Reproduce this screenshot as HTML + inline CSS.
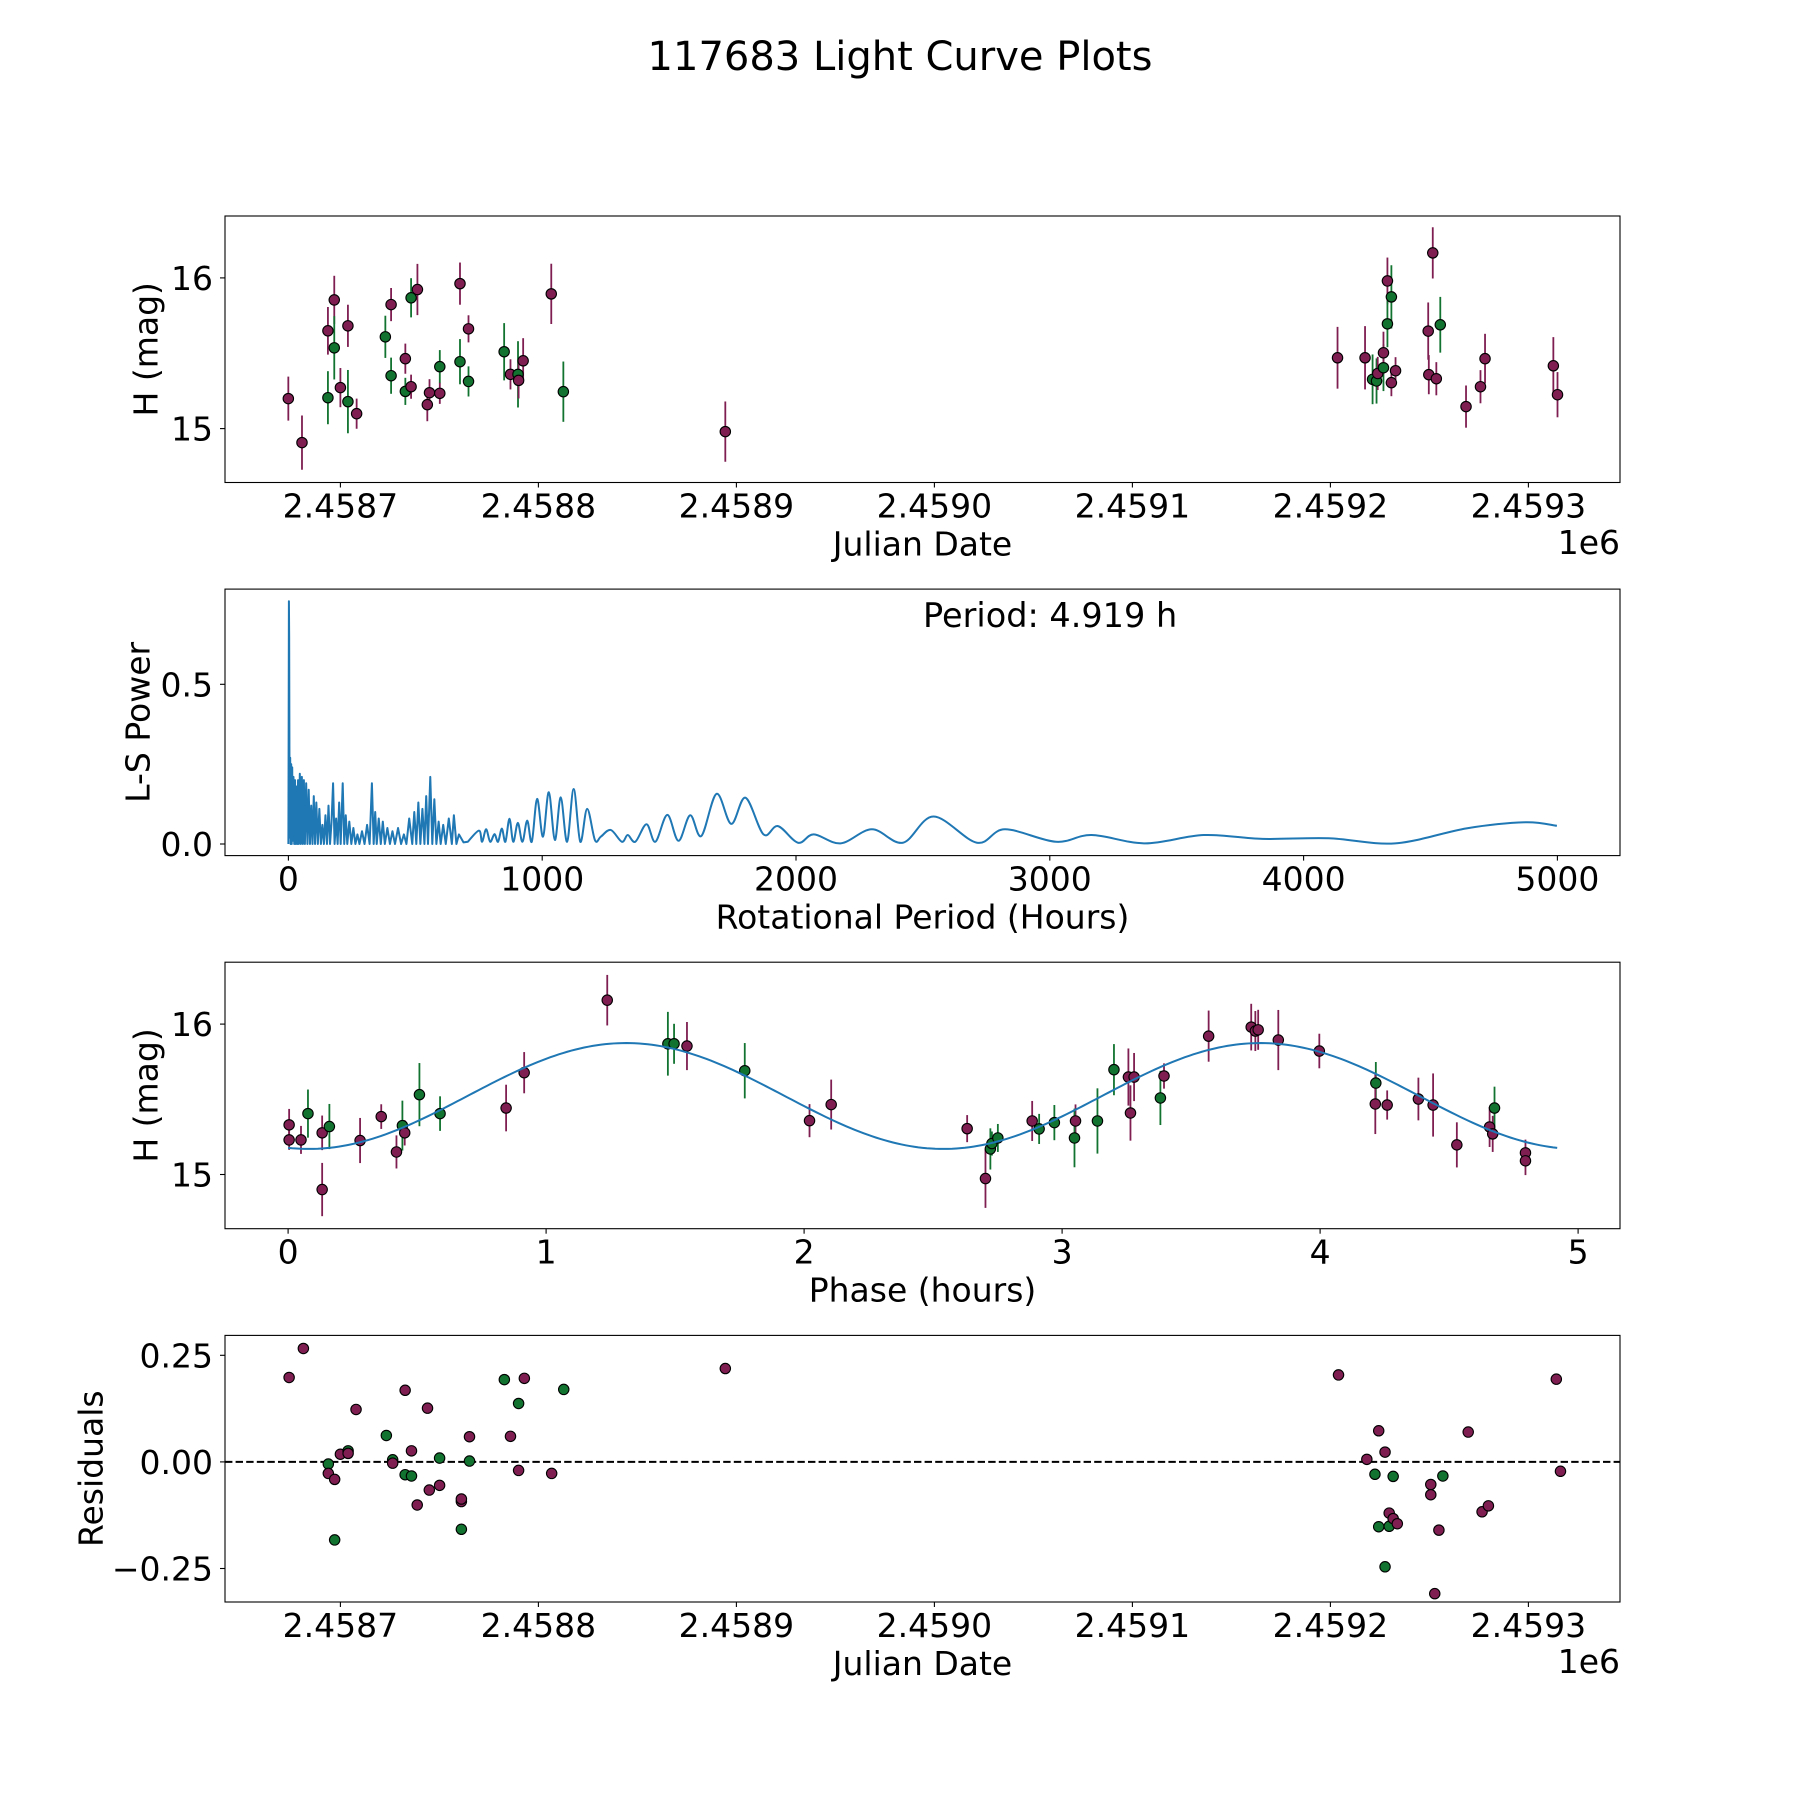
<!DOCTYPE html>
<html><head><meta charset="utf-8"><title>117683 Light Curve Plots</title>
<style>
html,body{margin:0;padding:0;background:#fff}
svg{display:block;font-family:"DejaVu Sans","Liberation Sans",sans-serif}
</style></head>
<body>
<svg id="fig" width="1800" height="1800" viewBox="0 0 1800 1800" xmlns="http://www.w3.org/2000/svg">
<rect width="1800" height="1800" fill="#fff"/>
<text x="900" y="70" text-anchor="middle" font-size="40">117683 Light Curve Plots</text>
</svg>
<script>
// ---------- Panel 1: light curve (JD vs H mag) ----------
const lcJD = [2458673.7,2458680.6,2458693.7,2458693.7,2458696.9,2458696.9,2458700.0,2458703.8,2458703.8,2458708.2,2458722.7,2458725.6,2458725.6,2458732.8,2458732.8,2458735.7,2458735.7,2458738.9,2458743.9,2458745.0,2458750.2,2458750.2,2458760.4,2458760.4,2458764.7,2458764.7,2458782.7,2458785.9,2458789.7,2458790.0,2458792.3,2458806.5,2458812.6,2458894.4,
2459203.6,2459217.5,2459221.3,2459223.3,2459223.9,2459226.8,2459226.8,2459228.8,2459228.8,2459230.8,2459230.8,2459232.9,2459249.4,2459249.7,2459251.7,2459253.5,2459255.5,2459268.5,2459275.8,2459278.1,2459312.6,2459314.7];
const lcMag = [15.199,14.907,15.205,15.649,15.854,15.536,15.272,15.179,15.682,15.099,15.609,15.823,15.351,15.464,15.247,15.278,15.868,15.923,15.159,15.238,15.411,15.234,15.962,15.444,15.662,15.313,15.51,15.36,15.36,15.32,15.45,15.894,15.245,14.98,
15.47,15.47,15.327,15.316,15.366,15.404,15.503,15.98,15.695,15.874,15.305,15.384,15.647,15.358,16.166,15.331,15.689,15.146,15.278,15.464,15.417,15.225];
const lcErr = [0.146,0.18,0.176,0.158,0.16,0.21,0.13,0.21,0.14,0.10,0.14,0.11,0.12,0.10,0.09,0.08,0.13,0.17,0.11,0.09,0.11,0.07,0.14,0.15,0.09,0.10,0.19,0.10,0.22,0.12,0.15,0.20,0.20,0.20,
0.205,0.21,0.165,0.15,0.11,0.155,0.14,0.155,0.155,0.21,0.09,0.09,0.19,0.13,0.17,0.11,0.185,0.14,0.11,0.165,0.19,0.15];
const lcBand = ['P','P','G','P','P','G','P','G','P','P','G','P','G','P','G','P','G','P','P','P','G','P','P','G','P','G','G','P','G','P','P','P','G','P',
'P','P','G','G','P','G','P','P','G','G','P','P','P','P','P','P','G','P','P','P','P','P'];

// ---------- Panel 2: Lomb-Scargle periodogram ----------
const lsPeriodDense = [0,1,2,3,4,5,7,9,11,13,15,17,20,23,26,29,32,35,38,41,45,49,53,57,61,65,70,75,80,85,90,95,100,105,110,116,122,128,134,140,146,152,158,164,170,176,182,188,194,200,206,214,220,226,232,240,248,256,264,272,280,290,300,310,320,329,336,342,348,356,364,372,380,390,400,410,420,432,444,455,465,476,488,496,504,512,520,528,536,543,550,559,567,575,583,592,600,610,620,632,644,652,662,672,690,707];
const lsPowerDense = [0,0.34,0.76,0.65,0.30,0.02,0.27,0,0.25,0,0.24,0.01,0.21,0,0.20,0,0.18,0,0.20,0,0.22,0,0.21,0,0.20,0,0.19,0,0.17,0,0.12,0,0.15,0,0.13,0,0.11,0,0.06,0,0.09,0,0.12,0,0.07,0.19,0,0.08,0,0.13,0,0.19,0,0.09,0,0.07,0,0.05,0,0.03,0,0.04,0,0.06,0,0.19,0,0.10,0,0.08,0,0.07,0,0.05,0,0.04,0,0.05,0,0.03,0,0.08,0,0.10,0,0.13,0,0.11,0,0.15,0,0.21,0,0.14,0,0.07,0,0.06,0,0.08,0,0.09,0,0.03,0.005,0.007];
const lsPeriodSmooth = [707,751,763,779,795,812,826,841,855,871,886,904,922,941,959,980,1003,1026,1050,1073,1098,1124,1150,1177,1208,1231,1270,1314,1337,1367,1411,1446,1493,1537,1583,1627,1687,1745,1801,1872,1929,2008,2070,2176,2299,2421,2542,2713,2823,3024,3165,3376,3607,3838,4099,4361,4642,4873,4998];
const lsPowerSmooth = [0.007,0.042,0.007,0.046,0.007,0.031,0.007,0.048,0.007,0.079,0.007,0.066,0.007,0.073,0.007,0.141,0.023,0.162,0.0125,0.146,0.007,0.172,0.007,0.11,0.012,0.023,0.044,0.007,0.028,0.007,0.062,0.007,0.091,0.01,0.09,0.025,0.157,0.063,0.145,0.03,0.056,0.004,0.03,0.002,0.046,0.004,0.086,0.004,0.046,0.007,0.028,0.002,0.028,0.016,0.018,0.002,0.049,0.068,0.057];
const bestPeriodLabel = "Period: 4.919 h";

// ---------- Panel 3: phased light curve ----------
const phHours = [0.004,0.004,0.050,0.077,0.132,0.132,0.160,0.279,0.361,0.420,0.443,0.452,0.509,0.589,0.845,0.915,1.237,1.472,1.496,1.546,1.770,2.021,2.105,
2.632,2.703,2.722,2.728,2.751,2.884,2.911,2.970,3.052,3.048,3.137,3.201,3.257,3.279,3.265,3.381,3.395,3.568,3.733,3.749,3.760,3.838,3.997,4.216,4.214,4.260,4.381,4.438,4.530,4.657,4.669,4.676,4.796,4.796];
const phMag = [15.330,15.230,15.230,15.405,15.277,14.900,15.319,15.226,15.385,15.150,15.325,15.277,15.531,15.405,15.442,15.677,16.159,15.869,15.869,15.854,15.690,15.358,15.465,
15.305,14.973,15.170,15.206,15.243,15.356,15.303,15.345,15.356,15.243,15.356,15.697,15.648,15.648,15.409,15.509,15.655,15.920,15.980,15.954,15.962,15.894,15.821,15.608,15.469,15.462,15.502,15.462,15.197,15.316,15.270,15.442,15.144,15.091];
const phErr = [0.106,0.066,0.093,0.16,0.115,0.177,0.15,0.15,0.082,0.11,0.166,0.084,0.21,0.115,0.155,0.137,0.168,0.212,0.133,0.16,0.184,0.11,0.166,
0.09,0.195,0.137,0.08,0.093,0.133,0.10,0.117,0.11,0.195,0.217,0.17,0.19,0.16,0.184,0.18,0.084,0.17,0.155,0.133,0.133,0.2,0.115,0.14,0.2,0.097,0.142,0.21,0.15,0.133,0.12,0.142,0.088,0.095];
const phBand = ['P','P','P','G','P','P','G','P','P','P','G','P','G','G','P','P','P','G','G','P','G','P','P',
'P','P','G','G','G','P','G','G','P','G','G','G','P','P','P','G','P','P','P','P','P','P','P','G','P','P','P','P','P','P','P','G','P','P'];
const fitMean = 15.522, fitAmp = 0.352, fitPeakPhase = 1.31, fitPeriod = 4.919;

// ---------- Panel 4: residuals ----------
const resJD = [2458674.1,2458681.3,2458693.9,2458693.9,2458697.1,2458697.1,2458700.0,2458703.9,2458703.9,2458707.9,2458723.2,2458726.4,2458726.4,2458732.7,2458732.7,2458735.9,2458735.9,2458738.8,2458744.0,2458744.9,2458750.1,2458750.1,2458761.1,2458761.1,2458761.1,2458765.2,2458765.2,2458782.8,2458785.9,2458790.0,2458790.0,2458792.9,2458806.7,2458812.8,2458894.4,
2459204.1,2459218.4,2459222.5,2459224.4,2459224.4,2459227.6,2459227.6,2459229.7,2459229.7,2459231.7,2459231.7,2459233.8,2459250.7,2459250.7,2459252.7,2459254.8,2459256.8,2459269.6,2459276.6,2459279.8,2459314.1,2459316.2];
const resVal = [0.198,0.266,-0.005,-0.027,-0.041,-0.183,0.018,0.026,0.020,0.123,0.062,0.005,-0.003,0.168,-0.030,-0.033,0.026,-0.101,0.126,-0.066,0.009,-0.055,-0.093,-0.087,-0.158,0.059,0.002,0.193,0.060,0.137,-0.020,0.196,-0.027,0.170,0.219,
0.204,0.006,-0.029,0.073,-0.152,0.023,-0.246,-0.120,-0.151,-0.034,-0.133,-0.145,-0.053,-0.077,-0.309,-0.160,-0.033,0.070,-0.117,-0.103,0.194,-0.022];
const resBand = ['P','P','G','P','P','G','P','G','P','P','G','G','P','P','G','G','P','P','P','P','G','P','P','P','G','P','G','G','P','G','P','P','P','G','P',
'P','P','G','P','G','P','G','P','G','G','P','P','P','P','P','P','G','P','P','P','P','P'];

const jdTicks = [2458700,2458800,2458900,2459000,2459100,2459200,2459300];
const jdTickLabels = ["2.4587","2.4588","2.4589","2.4590","2.4591","2.4592","2.4593"];
const magTicks = [15,16];
const lsXTicks = [0,1000,2000,3000,4000,5000];
const lsYTicks = [0,0.5];
const lsYTickLabels = ["0.0","0.5"];
const phTicks = [0,1,2,3,4,5];
const resTicks = [-0.25,0,0.25];
const resTickLabels = ["\u22120.25","0.00","0.25"];

// ---------- drawing ----------
const NS = "http://www.w3.org/2000/svg";
const svg = document.getElementById('fig');
const COL = {P:'#7e1e51', G:'#11732f'};
const L = 225, R = 1620;
const FS = 33;
const panels = [[216,482.5],[589.1,855.6],[962.2,1228.7],[1335.4,1602]];
function mk(tag, attrs, parent){
  const e = document.createElementNS(NS, tag);
  for (const k in attrs) e.setAttribute(k, attrs[k]);
  (parent||svg).appendChild(e);
  return e;
}
function lin(d0,d1,r0,r1){return v => r0 + (v-d0)*(r1-r0)/(d1-d0);}

function axesFrame(idx, name, g){
  const [t,b] = panels[idx];
  const f = mk('rect',{x:L,y:t,width:R-L,height:b-t,fill:'none',stroke:'#000','stroke-width':1.1},g);
  
  
}
function xTicks(idx, ticks, labels, sx, g, name){
  const b = panels[idx][1];
  ticks.forEach((v,i)=>{
    const x = sx(v);
    const tk = mk('line',{x1:x,x2:x,y1:b,y2:b+5,stroke:'#000','stroke-width':1.1},g);
    
    
    const tx = mk('text',{x:x,y:b+35,'text-anchor':'middle','font-size':FS},g);
    tx.textContent = labels[i];
    
    
  });
}
function yTicks(ticks, labels, sy, g, name){
  ticks.forEach((v,i)=>{
    const y = sy(v);
    const tk = mk('line',{x1:L-5,x2:L,y1:y,y2:y,stroke:'#000','stroke-width':1.1},g);
    
    
    const tx = mk('text',{x:L-12,y:y+12,'text-anchor':'end','font-size':FS},g);
    tx.textContent = labels[i];
    
    
  });
}
function xLabel(idx, text, g, name){
  const tx = mk('text',{x:(L+R)/2,y:panels[idx][1]+73,'text-anchor':'middle','font-size':FS},g);
  tx.textContent = text;
  
  
}
function yLabel(idx, text, cx, g, name){
  const [t,b] = panels[idx];
  const cy = (t+b)/2;
  const tx = mk('text',{x:0,y:0,'text-anchor':'middle','dominant-baseline':'central','font-size':FS,transform:`translate(${cx},${cy}) rotate(-90)`},g);
  tx.textContent = text;
  
  
}
function errPoints(xs, ys, es, bands, sx, sy, g, name){
  xs.forEach((xv,i)=>{
    const x = sx(xv), c = COL[bands[i]];
    if (es){
      const eb = mk('line',{x1:x,x2:x,y1:sy(ys[i]-es[i]),y2:sy(ys[i]+es[i]),stroke:c,'stroke-width':1.8},g);
      
      
    }
  });
  xs.forEach((xv,i)=>{
    const p = mk('circle',{cx:sx(xv),cy:sy(ys[i]),r:5.2,fill:COL[bands[i]],stroke:'#000','stroke-width':1.1},g);
    
    
  });
}

// Panel 1
(function(){
  const g = mk('g',{});
  
  
  const sx = lin(2458700,2458800,340.4,538.4);
  const sy = lin(15,16,428.6,277.9);
  errPoints(lcJD, lcMag, lcErr, lcBand, sx, sy, g, 'light-curve');
  axesFrame(0,'light-curve',g);
  xTicks(0, jdTicks, jdTickLabels, sx, g, 'light-curve');
  yTicks(magTicks, magTicks.map(String), sy, g, 'light-curve');
  xLabel(0,'Julian Date',g,'light-curve');
  yLabel(0,'H (mag)',146,g,'light-curve');
  const off = mk('text',{x:R,y:554,'text-anchor':'end','font-size':FS},g);
  off.textContent = '1e6';
  
  
})();

// Panel 2
(function(){
  const g = mk('g',{});
  
  
  const sx = lin(0,1000,288.4,542.2);
  const sy = lin(0,0.5,844,684.3);
  let d = '';
  lsPeriodDense.forEach((p,i)=>{ d += (i?'L':'M') + sx(p).toFixed(2)+','+sy(lsPowerDense[i]).toFixed(2); });
  const P = lsPeriodSmooth.map((p,i)=>[sx(p), sy(lsPowerSmooth[i])]);
  for (let i=0;i<P.length-1;i++){
    const p0 = P[Math.max(0,i-1)], p1 = P[i], p2 = P[i+1], p3 = P[Math.min(P.length-1,i+2)];
    const c1 = [p1[0]+(p2[0]-p0[0])/6, p1[1]+(p2[1]-p0[1])/6];
    const c2 = [p2[0]-(p3[0]-p1[0])/6, p2[1]-(p3[1]-p1[1])/6];
    d += `L${p1[0].toFixed(2)},${p1[1].toFixed(2)}C${c1[0].toFixed(2)},${c1[1].toFixed(2)} ${c2[0].toFixed(2)},${c2[1].toFixed(2)} ${p2[0].toFixed(2)},${p2[1].toFixed(2)}`;
  }
  const line = mk('path',{d:d,fill:'none',stroke:'#1f77b4','stroke-width':2,'stroke-linejoin':'round'},g);
  
  
  axesFrame(1,'periodogram',g);
  xTicks(1, lsXTicks, lsXTicks.map(String), sx, g, 'periodogram');
  yTicks(lsYTicks, lsYTickLabels, sy, g, 'periodogram');
  xLabel(1,'Rotational Period (Hours)',g,'periodogram');
  yLabel(1,'L-S Power',138,g,'periodogram');
  const ann = mk('text',{x:923,y:627,'font-size':33.5},g);
  ann.textContent = bestPeriodLabel;
  
  
})();

// Panel 3
(function(){
  const g = mk('g',{});
  
  
  const sx = lin(0,1,288.1,546.1);
  const sy = lin(15,16,1174.5,1024.1);
  errPoints(phHours, phMag, phErr, phBand, sx, sy, g, 'phased');
  let d='';
  const n = 300;
  for (let i=0;i<=n;i++){
    const p = fitPeriod*i/n;
    const m = fitMean + fitAmp*Math.cos(2*Math.PI*(p-fitPeakPhase)/(fitPeriod/2));
    d += (i?'L':'M')+sx(p).toFixed(2)+','+sy(m).toFixed(2);
  }
  const fit = mk('path',{d:d,fill:'none',stroke:'#1f77b4','stroke-width':2},g);
  
  
  axesFrame(2,'phased',g);
  xTicks(2, phTicks, phTicks.map(String), sx, g, 'phased');
  yTicks(magTicks, magTicks.map(String), sy, g, 'phased');
  xLabel(2,'Phase (hours)',g,'phased');
  yLabel(2,'H (mag)',146,g,'phased');
})();

// Panel 4
(function(){
  const g = mk('g',{});
  
  
  const sx = lin(2458700,2458800,340.4,538.4);
  const sy = lin(0,0.25,1461.9,1355.3);
  const zl = mk('line',{x1:L,x2:R,y1:sy(0),y2:sy(0),stroke:'#000','stroke-width':2,'stroke-dasharray':'7.4,3.2'},g);
  
  
  errPoints(resJD, resVal, null, resBand, sx, sy, g, 'residual');
  axesFrame(3,'residuals',g);
  xTicks(3, jdTicks, jdTickLabels, sx, g, 'residuals');
  yTicks(resTicks, resTickLabels, sy, g, 'residuals');
  xLabel(3,'Julian Date',g,'residuals');
  yLabel(3,'Residuals',91,g,'residuals');
  const off = mk('text',{x:R,y:1673,'text-anchor':'end','font-size':FS},g);
  off.textContent = '1e6';
  
  
})();
</script>
</body></html>
